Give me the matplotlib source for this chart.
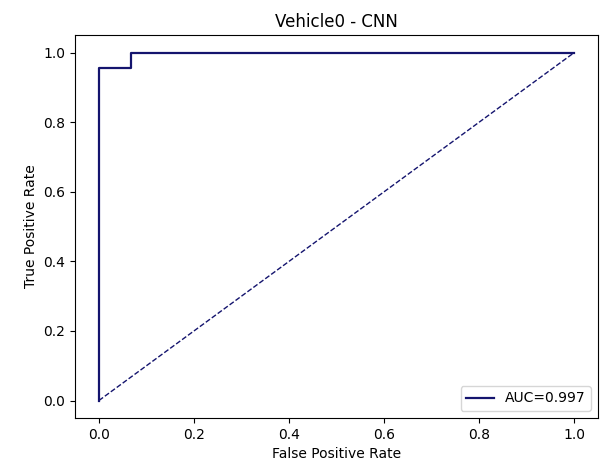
import numpy as np
import matplotlib.pyplot as plt

# ROC points
fpr = np.array([0.0, 0.0, 0.0667, 0.0667, 1.0])
tpr = np.array([0.0, 0.9545, 0.9545, 1.0, 1.0])
auc_val = 0.997

fig = plt.figure(figsize=(6.06, 4.68), dpi=100)
ax = fig.add_axes([0.124, 0.107, 0.863, 0.818])
ax.plot(fpr, tpr, color="#14146e", lw=1.6, label="AUC=%.3f" % auc_val)
ax.plot([0, 1], [0, 1], color="#14146e", lw=1, linestyle="--")
ax.set_xlabel("False Positive Rate")
ax.set_ylabel("True Positive Rate")
ax.set_title("Vehicle0 - CNN")
ax.legend(loc="lower right")
fig.savefig("out.png", dpi=100)
